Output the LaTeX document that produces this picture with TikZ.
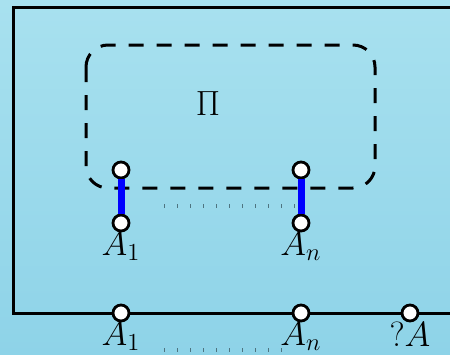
\RequirePackage{fix-cm}
\documentclass[tikz,border=0pt]{standalone}
\usepackage{xcolor}
\usepackage{tikz}
\usetikzlibrary{positioning}
\definecolor{skytop}{HTML}{A8E1EF}
\definecolor{skybot}{HTML}{8ED3E8}

\begin{document}
\begin{tikzpicture}[x=0.5pt,y=-0.5pt,
  font=\fontsize{17.5}{21}\selectfont,
  port/.style={circle,draw,fill=white,line width=1.4pt,inner sep=0pt,minimum size=8pt},
  lbl/.style={inner sep=0pt},
  wire/.style={blue,line width=3.5pt},
  ellip/.style={black!45!skybot,line width=2pt,dash pattern=on .4pt off 6.1pt}]
% background
\shade[top color=skytop,bottom color=skybot] (0,0) rectangle (450,354);
\useasboundingbox (0,0) rectangle (450,354);
% environment, open on the right
\draw[line width=1.5pt] (450,7) -- (13,7) -- (13,313) -- (450,313);
% process
\draw[line width=1.5pt,dash pattern=on 7.5pt off 6.5pt,rounded corners=11pt]
  (86,45) rectangle (375,188);
\node (pi) at (208,104) {$\Pi$};
% ports of the process
\node[port] (t1) at (121,170) {};
\node[port] (b1) at (121,223) {};
\node[port] (tn) at (301,170) {};
\node[port] (bn) at (301,223) {};
\draw[wire] (t1) -- (b1);
\draw[wire] (tn) -- (bn);
\node[lbl,below=-0.5pt of b1] (lb1) {$A_1$};
\node[lbl,below=-0.5pt of bn] (lbn) {$A_n$};
\draw[ellip] (164,206) -- (295,206);
% ports on the boundary
\node[port] (e1) at (121,313) {};
\node[port] (en) at (301,313) {};
\node[port] (q) at (410,313) {};
\node[lbl,below=-0.5pt of e1] (le1) {$A_1$};
\node[lbl,below=-0.5pt of en] (len) {$A_n$};
\node[lbl,below=-0.5pt of q] (lq) {$?A$};
\draw[ellip] (164,350) -- (285,350);
\end{tikzpicture}
\end{document}
